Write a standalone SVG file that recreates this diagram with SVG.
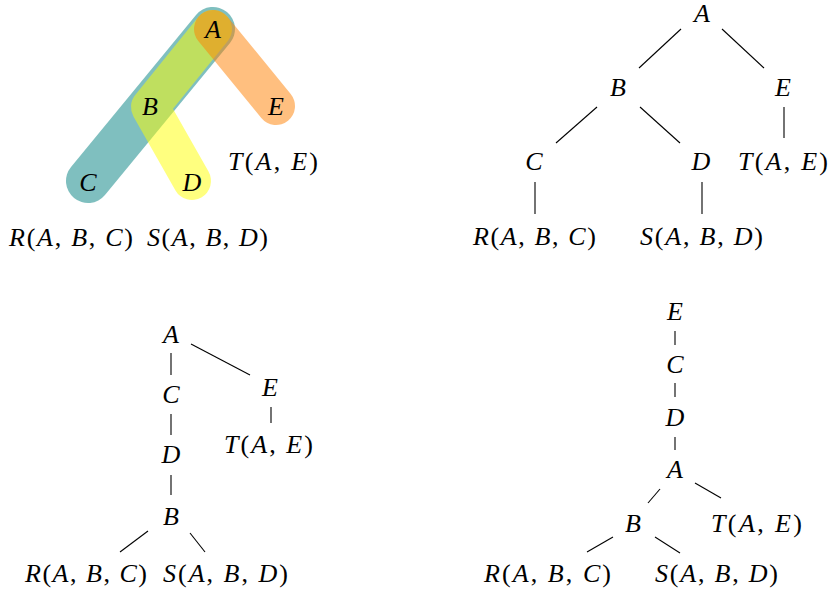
<svg xmlns="http://www.w3.org/2000/svg" width="831" height="593" viewBox="0 0 831 593">
<style>
.m{text-anchor:middle}
.u{font-style:normal}
.e{stroke:#000;stroke-width:1.1;fill:none}
.h{fill:none;stroke-linecap:round;stroke-linejoin:round;stroke-opacity:0.5}
</style>
<rect width="831" height="593" fill="#fff"/>
<g id="hyperedges">
<path class="h" d="M213,29 L88,181" stroke="#008080" stroke-width="44"/>
<path class="h" d="M213,29 L150,107 L192,181" stroke="#ffff00" stroke-width="38"/>
<path class="h" d="M213,29 L276,106" stroke="#ff8000" stroke-width="38"/>
</g>
<g id="connectors">
<line class="e" x1="681" y1="29" x2="639" y2="68"/>
<line class="e" x1="722" y1="29" x2="764" y2="68"/>
<line class="e" x1="597" y1="107" x2="556" y2="143"/>
<line class="e" x1="640" y1="107" x2="680" y2="143"/>
<line class="e" x1="784" y1="107" x2="784" y2="138"/>
<line class="e" x1="535" y1="182" x2="535" y2="214"/>
<line class="e" x1="702" y1="182" x2="702" y2="214"/>
<line class="e" x1="171" y1="353" x2="171" y2="375"/>
<line class="e" x1="171" y1="414" x2="171" y2="435"/>
<line class="e" x1="171" y1="475" x2="171" y2="495"/>
<line class="e" x1="191" y1="344" x2="250" y2="375"/>
<line class="e" x1="271" y1="407" x2="271" y2="423"/>
<line class="e" x1="148" y1="531" x2="120" y2="552"/>
<line class="e" x1="190" y1="533" x2="205" y2="552"/>
<line class="e" x1="675" y1="331" x2="675" y2="345"/>
<line class="e" x1="675" y1="383" x2="675" y2="397"/>
<line class="e" x1="675" y1="437" x2="675" y2="450"/>
<line class="e" x1="660" y1="489" x2="648" y2="503"/>
<line class="e" x1="695" y1="483" x2="721" y2="498"/>
<line class="e" x1="613" y1="537" x2="587" y2="552"/>
<line class="e" x1="655" y1="537" x2="680" y2="553"/>
</g>
<g id="labels" font-family="Liberation Serif, Times New Roman, DejaVu Serif, serif" font-size="26" font-style="italic" fill="#000">
<g id="p1-A"><text class="m" x="213" y="38">A</text></g>
<g id="p1-B"><text class="m" x="150" y="115">B</text></g>
<g id="p1-E"><text class="m" x="276" y="115">E</text></g>
<g id="p1-C"><text class="m" x="88" y="191">C</text></g>
<g id="p1-D"><text class="m" x="192" y="191">D</text></g>
<g id="p1-T"><text x="228" y="170" textLength="90" lengthAdjust="spacing">T<tspan class="u">(</tspan>A<tspan class="u">, </tspan>E<tspan class="u">)</tspan></text></g>
<g id="p1-R"><text x="9" y="246" textLength="124" lengthAdjust="spacing">R<tspan class="u">(</tspan>A<tspan class="u">, </tspan>B<tspan class="u">, </tspan>C<tspan class="u">)</tspan></text></g>
<g id="p1-S"><text x="147" y="246" textLength="121" lengthAdjust="spacing">S<tspan class="u">(</tspan>A<tspan class="u">, </tspan>B<tspan class="u">, </tspan>D<tspan class="u">)</tspan></text></g>
<g id="p2-A"><text class="m" x="702" y="22">A</text></g>
<g id="p2-B"><text class="m" x="618" y="96">B</text></g>
<g id="p2-E"><text class="m" x="783" y="96">E</text></g>
<g id="p2-C"><text class="m" x="534" y="170">C</text></g>
<g id="p2-D"><text class="m" x="701" y="170">D</text></g>
<g id="p2-T"><text x="738" y="170" textLength="90" lengthAdjust="spacing">T<tspan class="u">(</tspan>A<tspan class="u">, </tspan>E<tspan class="u">)</tspan></text></g>
<g id="p2-R"><text x="473" y="245" textLength="123" lengthAdjust="spacing">R<tspan class="u">(</tspan>A<tspan class="u">, </tspan>B<tspan class="u">, </tspan>C<tspan class="u">)</tspan></text></g>
<g id="p2-S"><text x="640" y="245" textLength="123" lengthAdjust="spacing">S<tspan class="u">(</tspan>A<tspan class="u">, </tspan>B<tspan class="u">, </tspan>D<tspan class="u">)</tspan></text></g>
<g id="p3-A"><text class="m" x="171" y="343">A</text></g>
<g id="p3-C"><text class="m" x="171" y="403">C</text></g>
<g id="p3-D"><text class="m" x="171" y="463">D</text></g>
<g id="p3-B"><text class="m" x="171" y="525">B</text></g>
<g id="p3-E"><text class="m" x="270" y="396">E</text></g>
<g id="p3-T"><text x="224" y="453" textLength="89" lengthAdjust="spacing">T<tspan class="u">(</tspan>A<tspan class="u">, </tspan>E<tspan class="u">)</tspan></text></g>
<g id="p3-R"><text x="25" y="582" textLength="122" lengthAdjust="spacing">R<tspan class="u">(</tspan>A<tspan class="u">, </tspan>B<tspan class="u">, </tspan>C<tspan class="u">)</tspan></text></g>
<g id="p3-S"><text x="163" y="582" textLength="125" lengthAdjust="spacing">S<tspan class="u">(</tspan>A<tspan class="u">, </tspan>B<tspan class="u">, </tspan>D<tspan class="u">)</tspan></text></g>
<g id="p4-E"><text class="m" x="675" y="320">E</text></g>
<g id="p4-C"><text class="m" x="675" y="373">C</text></g>
<g id="p4-D"><text class="m" x="675" y="426">D</text></g>
<g id="p4-A"><text class="m" x="675" y="478">A</text></g>
<g id="p4-B"><text class="m" x="633" y="532">B</text></g>
<g id="p4-T"><text x="711" y="532" textLength="91" lengthAdjust="spacing">T<tspan class="u">(</tspan>A<tspan class="u">, </tspan>E<tspan class="u">)</tspan></text></g>
<g id="p4-R"><text x="484" y="582" textLength="127" lengthAdjust="spacing">R<tspan class="u">(</tspan>A<tspan class="u">, </tspan>B<tspan class="u">, </tspan>C<tspan class="u">)</tspan></text></g>
<g id="p4-S"><text x="655" y="582" textLength="123" lengthAdjust="spacing">S<tspan class="u">(</tspan>A<tspan class="u">, </tspan>B<tspan class="u">, </tspan>D<tspan class="u">)</tspan></text></g>
</g>
</svg>
